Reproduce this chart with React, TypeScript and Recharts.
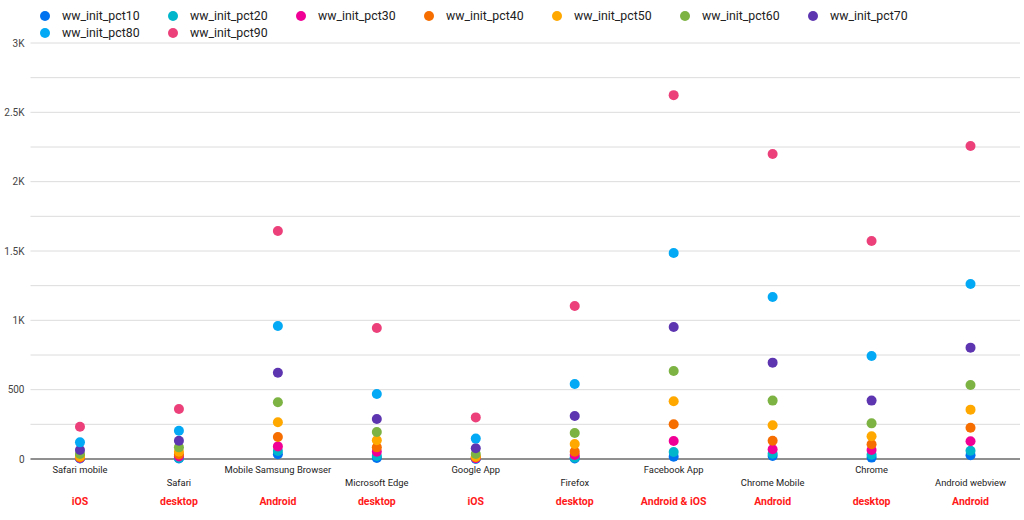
import React from 'react';
import { LineChart, Line, XAxis, YAxis, CartesianGrid } from 'recharts';

const browsers = ['Safari mobile', 'Safari', 'Mobile Samsung Browser', 'Microsoft Edge', 'Google App', 'Firefox', 'Facebook App', 'Chrome Mobile', 'Chrome', 'Android webview'];
const platforms = ['iOS', 'desktop', 'Android', 'desktop', 'iOS', 'desktop', 'Android & iOS', 'Android', 'desktop', 'Android'];

const pct10 = [3, 3, 34, 8, 1, 3, 17, 22, 10, 27];
const pct20 = [5, 8, 58, 22, 3, 10, 50, 38, 31, 60];
const pct30 = [8, 18, 91, 53, 6, 29, 130, 70, 65, 128];
const pct40 = [12, 33, 159, 84, 12, 53, 250, 132, 106, 226];
const pct50 = [17, 52, 265, 135, 17, 108, 416, 243, 164, 356];
const pct60 = [36, 84, 409, 195, 36, 187, 634, 421, 257, 534];
const pct70 = [65, 132, 622, 288, 77, 310, 952, 695, 421, 803];
const pct80 = [120, 204, 959, 469, 147, 541, 1485, 1168, 743, 1262];
const pct90 = [233, 360, 1644, 945, 300, 1103, 2624, 2199, 1572, 2257];

const seriesNames = ['ww_init_pct10', 'ww_init_pct20', 'ww_init_pct30', 'ww_init_pct40', 'ww_init_pct50', 'ww_init_pct60', 'ww_init_pct70', 'ww_init_pct80', 'ww_init_pct90'];
const seriesValues = [pct10, pct20, pct30, pct40, pct50, pct60, pct70, pct80, pct90];
const seriesColors = ['#0072f0', '#00b6cb', '#f10096', '#f66d00', '#ffa800', '#7cb342', '#5e35b1', '#03a9f4', '#ec407a'];

const yTicks = [0, 250, 500, 750, 1000, 1250, 1500, 1750, 2000, 2250, 2500, 2750, 3000];

const data = browsers.map((name, i) => {
  const row: Record<string, any> = { name, platform: platforms[i] };
  seriesNames.forEach((s, k) => {
    row[s] = seriesValues[k][i];
  });
  return row;
});

const fmtY = (v: number) => {
  if (v % 500 !== 0) return '';
  if (v === 0) return '0';
  if (v < 1000) return String(v);
  return `${v / 1000}K`;
};

const XTick = (props: any) => {
  const { x, y, payload } = props;
  const i = payload.index;
  const labelY = i % 2 === 0 ? 10 : 23;
  return (
    <g>
      <text x={x} y={y + labelY} textAnchor="middle" dominantBaseline="central" fontSize={9.4} fill="#222" fontFamily="Roboto">
        {payload.value}
      </text>
      <text x={x} y={y + 42} textAnchor="middle" dominantBaseline="central" fontSize={10.5} fontWeight="bold" fill="#ff1a1a" fontFamily="Roboto">
        {platforms[i]}
      </text>
    </g>
  );
};

const Legend = () => (
  <div style={{ position: 'absolute', left: 40, top: 7, width: 960, fontFamily: 'Roboto', fontSize: 12.3, color: '#222' }}>
    {seriesNames.map((s, k) => (
      <div key={s} style={{ position: 'absolute', left: (k % 7) * 128, top: Math.floor(k / 7) * 17, display: 'flex', alignItems: 'center', height: 17, whiteSpace: 'nowrap' }}>
        <span style={{ display: 'inline-block', width: 10, height: 10, borderRadius: 5, background: seriesColors[k], marginRight: 12 }} />
        <span>{s}</span>
      </div>
    ))}
  </div>
);

export default function App() {
  return (
    <div style={{ position: 'absolute', left: 0, top: 0, width: 1024, height: 520, background: '#fff' }}>
      <LineChart width={1024} height={520} data={data} margin={{ top: 43, right: 4, left: 0, bottom: 31 }}>
        <CartesianGrid vertical={false} stroke="#dcdcdc" />
        <XAxis dataKey="name" scale="band" height={30} tickLine={false} tickSize={0} tickMargin={0} axisLine={{ stroke: '#333' }} tick={<XTick />} interval={0} />
        <YAxis width={30.5} domain={[0, 3000]} ticks={yTicks} tickFormatter={fmtY} axisLine={false} tickLine={false} tickSize={0} tickMargin={6} tick={{ fontSize: 10, fill: '#444', fontFamily: 'Roboto' }} interval={0} />
        {seriesNames.map((s, k) => (
          <Line key={s} dataKey={s} stroke="none" isAnimationActive={false} activeDot={false} dot={{ r: 5, fill: seriesColors[k], stroke: 'none', strokeWidth: 0 }} />
        ))}
      </LineChart>
      <Legend />
    </div>
  );
}
